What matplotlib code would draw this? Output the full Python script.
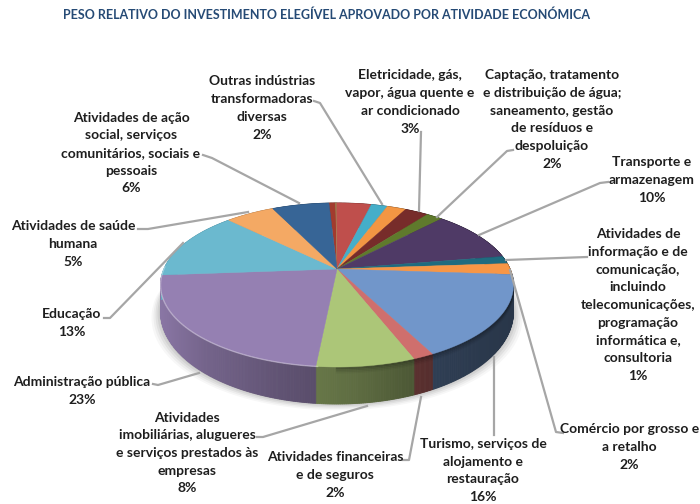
import matplotlib
matplotlib.use('Agg')
import matplotlib.pyplot as plt
import numpy as np

plt.rcParams['font.family'] = ['Lato', 'DejaVu Sans']

# shares, clockwise from the top (some slices have no label in the source)
shares = [0.75, 0.1, 3.83, 1.8, 2.1, 2.6, 1.8, 10.3, 1.5, 2.2, 16.4, 1.6, 7.5, 22.25, 13.6, 5.4, 6.3]
slice_colors = ['#a23b2e', '#9aa45c', '#bf4f4c', '#45aec9', '#f39643', '#772c2a', '#5f7a2c', '#4f3a66',
                '#1f6b7f', '#f79646', '#7196ca', '#cf6f6d', '#acc678', '#9580b2', '#6bb9cf', '#f4a964', '#376596']

title = 'PESO RELATIVO DO INVESTIMENTO ELEGÍVEL APROVADO POR ATIVIDADE ECONÓMICA'

labels = [
    'Outras indústrias\ntransformadoras\ndiversas\n2%',
    'Eletricidade, gás,\nvapor, água quente e\nar condicionado\n3%',
    'Captação, tratamento\ne distribuição de água;\nsaneamento, gestão\nde resíduos e\ndespoluição\n2%',
    'Transporte e\narmazenagem\n10%',
    'Atividades de\ninformação e de\ncomunicação,\nincluindo\ntelecomunicações,\nprogramação\ninformática e,\nconsultoria\n1%',
    'Comércio por grosso e\na retalho\n2%',
    'Turismo, serviços de\nalojamento e\nrestauração\n16%',
    'Atividades financeiras\ne de seguros\n2%',
    'Atividades\nimobiliárias, alugueres\ne serviços prestados às\nempresas\n8%',
    'Administração pública\n23%',
    'Educação\n13%',
    'Atividades de saúde\nhumana\n5%',
    'Atividades de ação\nsocial, serviços\ncomunitários, sociais e\npessoais\n6%',
]
label_pos = [(262, 108), (410, 102), (552, 119.5), (652, 180), (638, 305), (629.5, 447), (483, 470.5),
             (335, 475), (187, 453), (82, 391), (72, 323), (73, 244), (131, 153)]

leaders = [
    [(314, 101), (320, 103), (382, 204)],
    [(421, 132), (419, 211)],
    [(513, 150), (507, 151), (437, 217)],
    [(608, 182), (600, 183), (479, 235)],
    [(587, 257), (506, 260)],
    [(563, 433), (556, 432), (510, 270)],
    [(494, 435), (494, 357)],
    [(403, 460), (409, 460), (421, 397)],
    [(257, 437), (263, 437), (367, 406)],
    [(153, 384), (158, 385), (199, 373)],
    [(104, 318), (110, 318), (183, 243)],
    [(138, 229), (148, 229), (248, 212)],
    [(203, 155), (212, 158), (299, 203)],
]

# pie geometry in pixels (tilted disc with perspective)
apex_x, apex_y = 337, 269
a, b, k = 173.1, 78.9, 0.195
start_deg = -3.2
wall_back, wall_front = 24, 13


def rim(theta):
    # theta in degrees clockwise from the far side
    t = np.radians(theta)
    u, v = np.sin(t), np.cos(t)
    w = 1 + k * v
    return apex_x + a * u / w, apex_y - b * v / w, v


def shade(x):
    # wall darkening from left to right
    s = (x - apex_x) / 176.0
    return np.interp(s, [-1, -0.75, -0.3, 0.1, 0.5, 1], [0.92, 0.78, 0.64, 0.55, 0.42, 0.36])


fig = plt.figure(figsize=(7, 5.04), dpi=100)
ax = fig.add_axes([0, 0, 1, 1])
ax.set_xlim(0, 700)
ax.set_ylim(504, 0)
ax.axis('off')

edges = start_deg + np.concatenate([[0], np.cumsum(shares)]) / sum(shares) * 360

# soft shadow under the pie
th = np.linspace(0, 360, 361)
rx, ry, rv = rim(th)
depth = wall_back + wall_front * np.maximum(0, -rv)
for grow, alpha in zip([9, 7, 5, 3, 1], [0.03, 0.04, 0.05, 0.06, 0.08]):
    sx = apex_x + (rx - apex_x) * (1 + grow / 176.0)
    sy = ry + depth + grow * 0.7
    ax.fill(sx, sy, color='black', alpha=alpha, lw=0, zorder=1)

# side wall
for i, col in enumerate(slice_colors):
    base = np.array(matplotlib.colors.to_rgb(col))
    t = np.linspace(edges[i], edges[i + 1], max(3, int(edges[i + 1] - edges[i]) * 2 + 2))
    x, y, v = rim(t)
    d = wall_back + wall_front * np.maximum(0, -v)
    for j in range(len(t) - 1):
        c = base * shade((x[j] + x[j + 1]) / 2)
        ax.fill([x[j], x[j + 1], x[j + 1], x[j]], [y[j], y[j + 1], y[j + 1] + d[j + 1], y[j] + d[j]],
                color=c, lw=0.6, zorder=2)

# soft dark band right below the rim on the right hand side
t = np.linspace(95, 180, 60)
x, y, v = rim(t)
for off, alpha in zip([1, 2.5, 4, 5.5], [0.18, 0.12, 0.07, 0.04]):
    ax.plot(x, y + off, color='black', alpha=alpha, lw=1.6, zorder=3)

# top face
for i, col in enumerate(slice_colors):
    t = np.linspace(edges[i], edges[i + 1], max(3, int(edges[i + 1] - edges[i]) * 2 + 2))
    x, y, v = rim(t)
    ax.fill(np.r_[apex_x, x], np.r_[apex_y, y], color=col, lw=0.3, zorder=4)

# light edge of the bevel, strongest on the left
t = np.linspace(185, 272, 70)
x, y, v = rim(t)
for j in range(len(t) - 1):
    ax.plot(x[j:j + 2], y[j:j + 2], color='white', alpha=0.35, lw=1.0, zorder=5, solid_capstyle='butt')

for pts in leaders:
    px, py = zip(*pts)
    ax.plot(px, py, color='#a6a6a6', lw=1.6, zorder=6, solid_joinstyle='round')

for txt, (tx, ty) in zip(labels, label_pos):
    ax.text(tx, ty, txt, ha='center', va='center', multialignment='center', fontsize=10,
            fontweight='bold', color='#1e1e1e', linespacing=1.57, zorder=7)

ax.text(326.5, 15, title, ha='center', va='center', fontsize=9.0, fontweight='bold', color='#254a75', zorder=7)

fig.savefig('out.png', dpi=100)
plt.close(fig)
